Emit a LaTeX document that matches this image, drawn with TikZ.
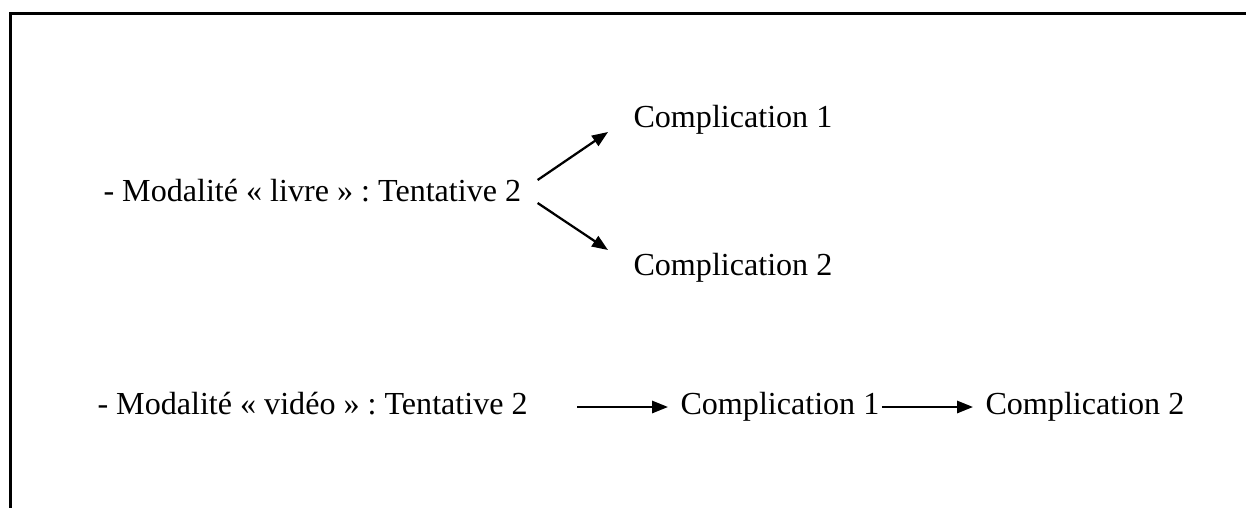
\documentclass[tikz,border=0pt]{standalone}
\usepackage{fontspec}
\setmainfont{Liberation Serif}
\usepackage{tikz}
\usetikzlibrary{arrows.meta,positioning}
\frenchspacing

\begin{document}
\begin{tikzpicture}[x=0.377pt, y=-0.377pt,
  txt/.style={inner sep=0pt, anchor=base west, font=\fontsize{12.1}{14}\selectfont},
  arr/.style={line width=0.85pt, -{Triangle[length=6pt, width=4.6pt]}}]
\useasboundingbox (0,0) rectangle (1246,508);
\draw[line width=0.8pt] (10.5,508) -- (10.5,13.5) -- (1246,13.5);

% modalite livre
\node (livre) [txt] at (103,201) {- Modalité « livre » : Tentative 2};
\node (compA) [txt] at (633,128) {Complication 1};
\node (compB) [txt] at (633,275) {Complication 2};
\draw[arr] ([shift={(16,-21)}]livre.base east) -- ([shift={(-25,4)}]compA.base west);
\draw[arr] ([shift={(16,2)}]livre.base east) -- ([shift={(-25,-25)}]compB.base west);

% modalite video
\node (video) [txt] at (97,414) {- Modalité « vidéo » : Tentative 2};
\node (compC) [txt] at (680,414) {Complication 1};
\node (compD) [txt] at (985,414) {Complication 2};
\draw[arr] ([shift={(49,-7)}]video.base east) -- ([shift={(-12,-7)}]compC.base west);
\draw[arr] ([shift={(2,-7)}]compC.base east) -- ([shift={(-12,-7)}]compD.base west);
\end{tikzpicture}
\end{document}
